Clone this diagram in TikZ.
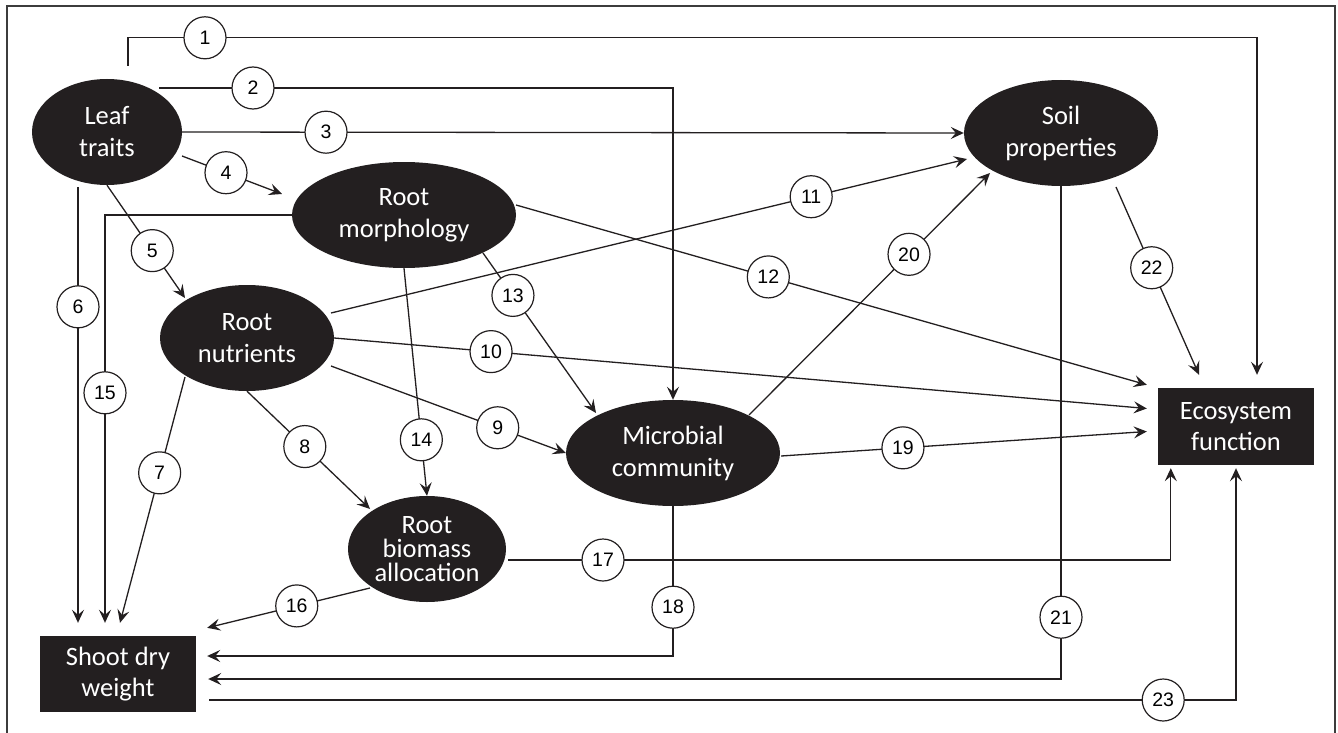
\documentclass[tikz,border=0pt]{standalone}
\usepackage{fontspec}
\setmainfont{Carlito}
\newfontfamily\numfont{Liberation Sans}
\usetikzlibrary{shapes.geometric,arrows.meta,calc}
\definecolor{ink}{RGB}{35,31,32}
\definecolor{framec}{RGB}{60,60,60}
\tikzset{
  var/.style={ellipse,fill=ink,text=white,inner sep=0pt,align=center,
    minimum height=106pt,font=\fontsize{26.5}{32}\selectfont},
  boxnode/.style={rectangle,fill=ink,text=white,inner sep=0pt,align=center,
    font=\fontsize{26.5}{31}\selectfont},
  conn/.style={draw=ink,line width=1.3pt,-{Stealth[length=13pt,width=12pt,inset=5pt]}},
  lab/.style={circle,draw=ink,line width=1.2pt,fill=white,minimum size=42pt,
    inner sep=0pt,font=\numfont\fontsize{19.5}{21}\selectfont}
}
\begin{document}
\begin{tikzpicture}[x=1pt,y=-1pt]
\useasboundingbox (0,0) rectangle (1338,733);
\fill[white] (0,0) rectangle (1338,733);
\draw[framec,line width=2pt] (7,740) -- (7,6) -- (1335,6) -- (1335,740);

% nodes
\node[var,minimum width=150pt] (leaf) at (107,132) {Leaf\\traits};
\node[var,minimum width=224pt] (morph) at (404,215) {Root\\morphology};
\node[var,minimum width=174pt] (nutr) at (247,338) {Root\\nutrients};
\node[var,minimum width=194pt] (soil) at (1061,133) {Soil\\properties};
\node[var,minimum width=214pt] (micro) at (673,453) {Microbial\\community};
\node[var,minimum width=158pt,font=\fontsize{26.5}{24}\selectfont] (biom) at (427,549) {Root\\biomass\\allocation};
\node[boxnode,minimum width=156pt,minimum height=76pt] (shoot) at (118,674) {Shoot dry\\weight};
\node[boxnode,minimum width=156pt,minimum height=77pt] (eco) at (1236,426.5) {Ecosystem\\function};

% end points
\coordinate (s1) at ($(leaf.north)+(21,-13)$);
\coordinate (t1) at ($(eco.north)+(21,-13)$);
\coordinate (s2) at ($(leaf)+(52,-44)$);
\coordinate (s4) at ($(leaf)+(75,24)$);
\coordinate (t4) at ($(morph)+(-122,-21)$);
\coordinate (t5) at ($(nutr)+(-62,-40)$);
\coordinate (s6) at ($(leaf)+(-29,55)$);
\coordinate (t6) at ($(shoot.north)+(-40,-13)$);
\coordinate (s7) at ($(nutr)+(-62,39)$);
\coordinate (t7) at ($(shoot.north)+(2,-13)$);
\coordinate (t8) at ($(biom)+(-57,-40)$);
\coordinate (s9) at ($(nutr)+(84,28)$);
\coordinate (t10) at ($(eco.west)+(-11,-18)$);
\coordinate (s11) at ($(nutr)+(84,-25)$);
\coordinate (t11) at ($(soil)+(-94,26)$);
\coordinate (s12) at ($(morph)+(112,-10)$);
\coordinate (t12) at ($(eco.north west)+(-11,-3)$);
\coordinate (s13) at ($(morph)+(79,38)$);
\coordinate (t13) at ($(micro)+(-77,-40)$);
\coordinate (t15) at ($(shoot.north)+(-13,-13)$);
\coordinate (s16) at ($(biom)+(-57,39)$);
\coordinate (t16) at ($(shoot.north east)+(11,-8)$);
\coordinate (s17) at ($(biom)+(81,11)$);
\coordinate (t17) at ($(eco.south west)+(13,3)$);
\coordinate (t18) at ($(shoot.east)+(11,-18)$);
\coordinate (s19) at ($(micro.east)+(1,3)$);
\coordinate (t19) at ($(eco.west)+(-11,5)$);
\coordinate (s20) at ($(micro)+(76,-38)$);
\coordinate (t20) at ($(soil)+(-71,40)$);
\coordinate (t21) at ($(shoot.east)+(12,5)$);
\coordinate (s22) at ($(soil)+(55,54)$);
\coordinate (t22) at ($(eco.north)+(-37,-13)$);
\coordinate (s23) at ($(shoot.east)+(13,26)$);
\coordinate (t23) at ($(eco.south)+(0,3)$);

% connectors
\draw[conn] (s1) -- ++(0,-28) -| (t1);
\draw[conn] (s2) -| (micro.north);
\draw[conn] (leaf.east) -- (soil.west);
\draw[conn] (s4) -- (t4);
\draw[conn] (leaf.south) -- (t5);
\draw[conn] (s6) -- (t6);
\draw[conn] (s7) -- (t7);
\draw[conn] (nutr.south) -- (t8);
\draw[conn] (s9) -- (micro.west);
\draw[conn] (nutr.east) -- (t10);
\draw[conn] (s11) -- (t11);
\draw[conn] (s12) -- (t12);
\draw[conn] (s13) -- (t13);
\draw[conn] (morph.south) -- (biom.north);
\draw[conn] (morph.west) -| (t15);
\draw[conn] (s16) -- (t16);
\draw[conn] (s17) -| (t17);
\draw[conn] (micro.south) |- (t18);
\draw[conn] (s19) -- (t19);
\draw[conn] (s20) -- (t20);
\draw[conn] (soil.south) |- (t21);
\draw[conn] (s22) -- (t22);
\draw[conn] (s23) -| (t23);

% labels
\node[lab] (l1) at ($(s1)+(77,-28)$) {1};
\node[lab] (l2) at ($(s2)+(94,0)$) {2};
\node[lab] (l3) at ($(leaf.east)!0.184!(soil.west)$) {3};
\node[lab] (l4) at ($(s4)!0.44!(t4)$) {4};
\node[lab] (l5) at ($(leaf.south)!0.58!(t5)$) {5};
\node[lab] (l6) at ($(s6)!0.275!(t6)$) {6};
\node[lab] (l7) at ($(s7)!0.39!(t7)$) {7};
\node[lab] (l8) at ($(nutr.south)!0.47!(t8)$) {8};
\node[lab] (l9) at ($(s9)!0.71!(micro.west)$) {9};
\node[lab] (l10) at ($(nutr.east)!0.193!(t10)$) {10};
\node[lab] (l11) at ($(s11)!0.755!(t11)$) {11};
\node[lab] (l12) at ($(s12)!0.40!(t12)$) {12};
\node[lab] (l13) at ($(s13)!0.265!(t13)$) {13};
\node[lab] (l14) at ($(morph.south)!0.754!(biom.north)$) {14};
\node[lab] (l15) at ($(t15)+(0,-230)$) {15};
\node[lab] (l16) at ($(s16)!0.45!(t16)$) {16};
\node[lab] (l17) at ($(s17)+(95,0)$) {17};
\node[lab] (l18) at ($(micro.south)+(0,101)$) {18};
\node[lab] (l19) at ($(s19)!0.333!(t19)$) {19};
\node[lab] (l20) at ($(s20)!0.664!(t20)$) {20};
\node[lab] (l21) at ($(soil.south)+(0,431)$) {21};
\node[lab] (l22) at ($(s22)!0.43!(t22)$) {22};
\node[lab] (l23) at ($(s23)+(954,0)$) {23};
\end{tikzpicture}
\end{document}
